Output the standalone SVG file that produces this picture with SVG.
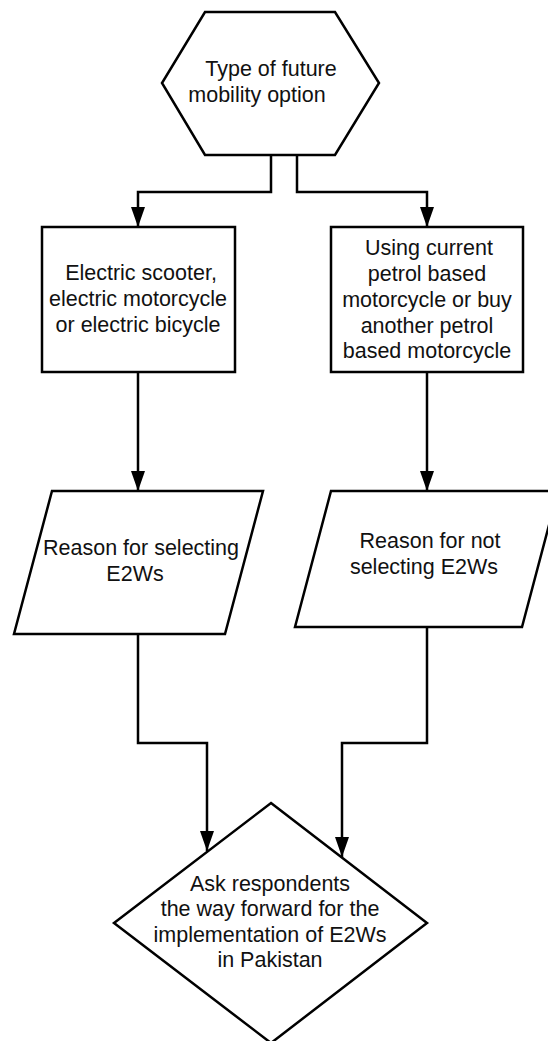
<svg xmlns="http://www.w3.org/2000/svg" width="548" height="1041" viewBox="0 0 548 1041">
<style>
.shape{fill:#fff;stroke:#000;stroke-width:2.5;stroke-linejoin:miter}
.conn{fill:none;stroke:#000;stroke-width:2.5}
text{font-family:"Liberation Sans",Arial,sans-serif;font-size:21.5px;fill:#111;text-anchor:middle}
</style>
<defs>
<marker id="arr" viewBox="0 0 20 14" refX="20" refY="7" markerWidth="20" markerHeight="14" markerUnits="userSpaceOnUse" orient="auto">
<path d="M0,0 L20,7 L0,14 Z" fill="#000"/>
</marker>
</defs>
<rect width="548" height="1041" fill="#fff"/>
<g id="connectors">
<path class="conn" d="M271,155 V192 H138 V227" marker-end="url(#arr)"/>
<path class="conn" d="M297,155 V192 H427 V227" marker-end="url(#arr)"/>
<path class="conn" d="M138,372 V491" marker-end="url(#arr)"/>
<path class="conn" d="M427,372 V491" marker-end="url(#arr)"/>
<path class="conn" d="M138,634 V743 H207 V851" marker-end="url(#arr)"/>
<path class="conn" d="M427,627 V743 H342 V857" marker-end="url(#arr)"/>
</g>
<g id="n-type">
<polygon class="shape" points="205,12 335,12 379,83 335,155 205,155 162,83"/>
<text x="271" y="76">Type of future</text>
<text x="257" y="102">mobility option</text>
</g>
<g id="n-electric">
<rect class="shape" x="42" y="227" width="193" height="145"/>
<text x="141" y="280">Electric scooter,</text>
<text x="138" y="306">electric motorcycle</text>
<text x="138" y="332">or electric bicycle</text>
</g>
<g id="n-petrol">
<rect class="shape" x="331" y="227" width="192" height="145"/>
<text x="429" y="255">Using current</text>
<text x="427" y="281">petrol based</text>
<text x="427" y="307">motorcycle or buy</text>
<text x="427" y="333">another petrol</text>
<text x="427" y="358">based motorcycle</text>
</g>
<g id="n-reason-sel">
<polygon class="shape" points="52,491 263,491 225,634 14,634"/>
<text x="141" y="555">Reason for selecting</text>
<text x="135" y="581">E2Ws</text>
</g>
<g id="n-reason-not">
<polygon class="shape" points="331,491 558,491 522,627 295,627"/>
<text x="430" y="548">Reason for not</text>
<text x="424" y="574">selecting E2Ws</text>
</g>
<g id="n-ask">
<polygon class="shape" points="271,803 427,923 271,1043 114,923"/>
<text x="270" y="891">Ask respondents</text>
<text x="270" y="916">the way forward for the</text>
<text x="270" y="942">implementation of E2Ws</text>
<text x="270" y="967">in Pakistan</text>
</g>
</svg>
